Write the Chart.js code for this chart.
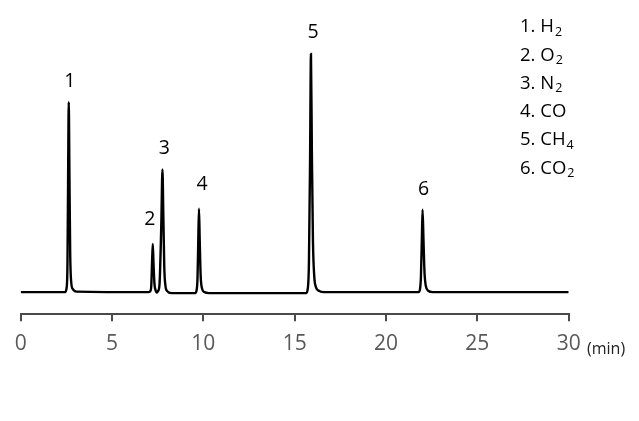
<!DOCTYPE html>
<html>
<head>
<meta charset="utf-8">
<script src="https://cdn.jsdelivr.net/npm/chart.js@4.4.1/dist/chart.umd.min.js"></script>
<style>
  html, body { margin: 0; padding: 0; background: #ffffff; }
  #wrap { width: 639px; height: 421px; position: relative; }
</style>
</head>
<body>
<div id="wrap"><canvas id="c" width="639" height="421"></canvas></div>
<script>
// Retention time (min) of each trace point
const traceTime = [
  0, 2.43, 2.51, 2.56, 2.595, 2.63, 2.67, 2.71, 2.76, 2.85, 3.05,
  7.02, 7.10, 7.15, 7.19, 7.23, 7.27, 7.32, 7.38, 7.45, 7.52, 7.60, 7.70, 7.76, 7.81, 7.86, 7.92, 8.02, 8.25,
  9.55, 9.63, 9.68, 9.72, 9.76, 9.80, 9.85, 9.92, 10.05, 10.3,
  15.62, 15.72, 15.78, 15.84, 15.89, 15.94, 16.00, 16.07, 16.16, 16.35, 16.6,
  21.78, 21.86, 21.91, 21.96, 22.00, 22.05, 22.11, 22.18, 22.30, 22.55,
  30
];
// Detector signal (arbitrary units) at each trace point
const traceSignal = [
  0, 0, 4, 28, 113, 189, 113, 38, 11, 3, 0.5,
  0, 1, 7, 29, 48, 29, 9, 2, -0.5, 1, 8, 70, 122, 75, 25, 7, 1, -1,
  -1, 2, 14, 50, 83, 52, 17, 4, 0, -1,
  -1, 4, 30, 130, 237, 140, 50, 16, 5, 1, 0,
  0, 3, 15, 52, 82, 52, 18, 6, 1.5, 0,
  0
];
// Peak numbers and their retention times (min)
const peakNumbers = ['1', '2', '3', '4', '5', '6'];
const peakTimes = [2.63, 7.23, 7.76, 9.76, 15.89, 22.00];
// Compound key
const compoundNames = ['H', 'O', 'N', 'CO', 'CH', 'CO'];
const compoundSubs = ['2', '2', '2', '', '4', '2'];
// Axis ticks
const xTicks = [0, 5, 10, 15, 20, 25, 30];
const xUnit = '(min)';

const FONT = '"Open Sans", Lato, sans-serif';

const points = traceTime.map((t, i) => ({ x: t, y: traceSignal[i] }));

function signalAt(t) {
  let idx = 0, best = Infinity;
  traceTime.forEach((tt, i) => { const d = Math.abs(tt - t); if (d < best) { best = d; idx = i; } });
  return traceSignal[idx];
}

const labelOffsets = [[1, -21], [-3, -24], [2, -21], [3, -24], [2, -21], [1, -20]];

const annotate = {
  id: 'annotate',
  afterDatasetsDraw(chart) {
    const { ctx, scales } = chart;
    const xs = scales.x, ys = scales.y;
    ctx.save();
    // peak numbers
    ctx.fillStyle = '#000';
    ctx.font = '19.5px ' + FONT;
    ctx.textAlign = 'center';
    ctx.textBaseline = 'middle';
    peakNumbers.forEach((n, i) => {
      const px = xs.getPixelForValue(peakTimes[i]) + labelOffsets[i][0];
      const py = ys.getPixelForValue(signalAt(peakTimes[i])) + labelOffsets[i][1];
      ctx.fillText(n, px, py);
    });
    // compound key
    ctx.textAlign = 'left';
    ctx.textBaseline = 'middle';
    const kx = 520, ky0 = 27, kdy = 28.3;
    compoundNames.forEach((name, i) => {
      const y = ky0 + i * kdy;
      ctx.font = '18.5px ' + FONT;
      const main = peakNumbers[i] + '. ' + name;
      ctx.fillText(main, kx, y);
      if (compoundSubs[i]) {
        const w = ctx.measureText(main).width;
        ctx.font = '12.5px ' + FONT;
        ctx.fillText(compoundSubs[i], kx + w + 1, y + 5);
      }
    });
    // x unit
    ctx.font = '16px ' + FONT;
    ctx.fillStyle = '#222';
    ctx.fillText(xUnit, 587, 349);
    ctx.restore();
  }
};

new Chart(document.getElementById('c'), {
  type: 'line',
  data: {
    datasets: [{
      data: points,
      borderColor: '#000',
      borderWidth: 2.4,
      pointRadius: 0,
      cubicInterpolationMode: 'monotone',
      fill: false
    }]
  },
  options: {
    responsive: false,
    animation: false,
    devicePixelRatio: 1,
    layout: { padding: { left: 20.7, right: 70.3, top: 20, bottom: 53.6 } },
    plugins: { legend: { display: false }, tooltip: { enabled: false } },
    scales: {
      x: {
        type: 'linear',
        min: 0,
        max: 30,
        afterBuildTicks(scale) { scale.ticks = xTicks.map(v => ({ value: v })); },
        ticks: {
          color: '#595959',
          font: { family: FONT, size: 21 },
          padding: 10.5,
          maxRotation: 0,
          autoSkip: false
        },
        grid: {
          display: true,
          drawOnChartArea: false,
          drawTicks: true,
          tickLength: 7,
          color: '#4a4a4a',
          lineWidth: 2
        },
        border: { display: true, color: '#4a4a4a', width: 2 }
      },
      y: {
        display: false,
        min: -22,
        max: 270.7
      }
    }
  },
  plugins: [annotate]
});
</script>
</body>
</html>
